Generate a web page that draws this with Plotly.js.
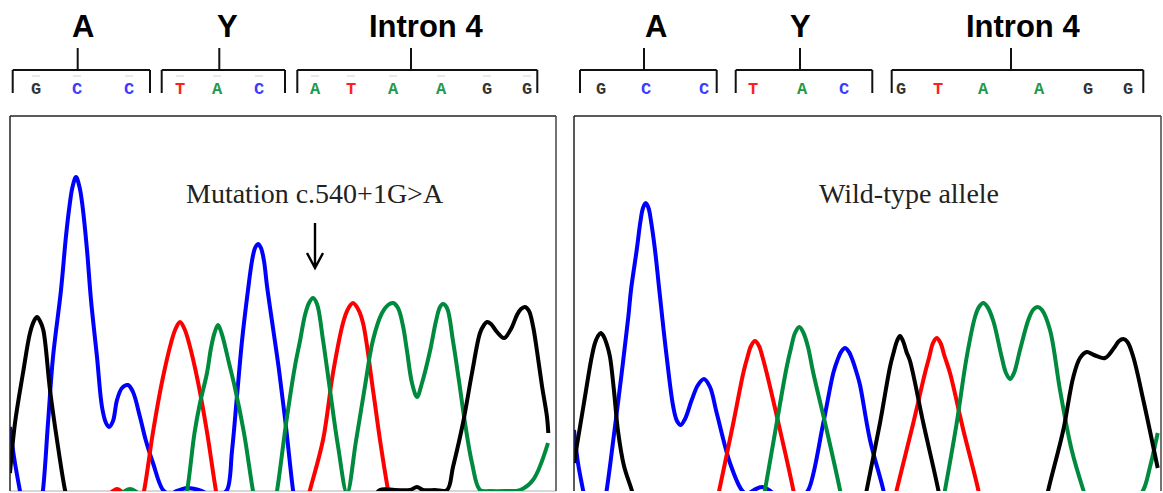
<!DOCTYPE html>
<html>
<head>
<meta charset="utf-8">
<script src="https://cdn.plot.ly/plotly-3.0.1.min.js"></script>
<style>
  html, body { margin: 0; padding: 0; background: #ffffff; }
  #chart { width: 1163px; height: 493px; }
</style>
</head>
<body>
<div id="chart"></div>
<script>
// ---- Mutant trace (c.540+1G>A): scan index / signal per dye channel ----
const mutBlueScan = [0, 4, 10, 13, null,
  29, 33, 38, 43, 51, 56, 59.5, 62.5, 66, 69.5, 72.5, 77, 81, 87, 92, 96, 99, 103, 107, 112, 118, 123, 130, 136, 143, 153, 160, 167, 177, 185, 192, 200, 210,
  217, 222, 227, 232, 238, 242, 245, 248, 251, 254, 257, 263, 269, 276, 283, 287];
const mutBlueSig = [64, 34, 0, -15, null,
  -25, 1, 68, 134, 201, 255, 285, 304, 314, 304, 285, 241, 191, 134, 84, 68, 64, 70, 91, 103, 106, 99, 74, 50, 28, 1, -3, 0, 3, 2, 0, -4, -4,
  1, 40, 95, 150, 201, 230, 243, 247, 243, 230, 205, 163, 121, 64, 1, -25];

const mutRedScan = [97, 103, 107, 111, 117, null,
  129, 134, 143, 152, 161, 165.5, 170, 174.5, 179, 188, 197, 206, 210, null,
  296, 300, 313, 323, 333, 338, 343, 348, 353, 363, 370, 378, 382];
const mutRedSig = [-6, 0, 2, 0, -6, null,
  -20, 0, 59, 109, 148, 162, 169, 162, 148, 109, 59, 0, -20, null,
  -15, 1, 51, 118, 168, 182, 188, 182, 168, 101, 51, 1, -20];

const mutGreenScan = [108, 115, 120, 125, 132, null,
  172, 177, 184.5, 190, 197, 201, 204.5, 208, 211.5, 215, 219, 225, 234, 243, 247, null,
  262, 267, 276, 285, 290, 295, 299, 303, 307, 313, 320, 328, 337,
  346, 355, 363, 372, 378, 383, 388, 393, 397, 402, 407, 412, 420, 426, 430, 433, 437, 443, 449, 455, 462, 470, 480, 495, 510, 523, 538];
const mutGreenSig = [-6, 0, 2, 0, -6, null,
  -20, 0, 58, 88, 118, 143, 158, 166, 158, 145, 128, 103, 58, 0, -20, null,
  -25, 0, 67, 125, 150, 176, 188, 193, 187, 151, 101, 45, -2,
  50, 105, 151, 178, 186, 188, 183, 165, 140, 108, 94, 108, 140, 170, 184, 187, 183, 150, 110, 68, 28, 1, 0, 0, 1, 11, 48];

const mutBlackScan = [0, 5, 13, 20, 24, 27, 30, 33.3, 40, 47, 55, 59, null,
  362, 370, 385, 400, 407, 413, 425, 437, 443, 453, 462, 470, 474, 477, 481, 487, 494, 501, 507, 511, 515, 519, 523, 527, 532, 537, 538.3];
const mutBlackSig = [18, 68, 118, 158, 170, 174, 170, 161, 101, 51, 1, -15, null,
  -10, 1, 1, 1, 4, 1, 1, 1, 24, 68, 118, 158, 166, 169, 167, 159, 153, 162, 176, 182, 184, 180, 165, 140, 105, 74, 58];

// ---- Wild-type trace: scan index / signal per dye channel ----
const wtBlueScan = [0, 4, 9, 13, null,
  29, 32.7, 39.3, 47.7, 54.3, 57, 62.7, 66.5, 69, 71.7, 74.5, 77, 81, 85.3, 92.7, 99.3, 103, 106.7, 111, 117.7, 124, 130, 136, 142.7, 156, 167.7, 173, 180, 188, 195, 202, 215, 228,
  234.3, 249.3, 259.3, 263.5, 267, 271, 275, 278.5, 282.7, 286, 296, 309.3, 313];
const wtBlueSig = [61, 28, 1, -20, null,
  -20, 1, 51, 118, 174, 201, 241, 270, 283, 288, 283, 270, 241, 201, 134, 84, 70, 66, 72, 91, 106, 112, 104, 78, 28, 1, -3, 1, 4, 1, -4, -6, -5,
  1, 68, 118, 131, 139, 143, 139, 131, 118, 106, 51, 1, -20];

const wtRedScan = [141, 145.3, 159.3, 169.3, 173.5, 177, 181, 185, 188.5, 192.7, 206, 219.3, 223, null,
  318, 322.7, 339.3, 351, 355, 359, 362.7, 366.5, 370.5, 376, 389.3, 404.3, 408];
const wtRedSig = [-20, 1, 68, 118, 134, 145, 150, 145, 134, 118, 61, 1, -20, null,
  -20, 1, 68, 118, 133, 148, 153, 148, 135, 118, 61, 1, -20];

const wtGreenScan = [187, 191, 202.7, 212.7, 217, 221, 225.3, 229.5, 234, 239.3, 252.7, 266, 270, null,
  367, 371, 382.7, 392.7, 401, 405, 409.3, 413.5, 419.3, 427.7, 432, 436, 440, 446, 454.3, 459, 463.7, 468, 476, 486, 497.7, 509.3, 513, 560, 569.3, 576, 583.7];
const wtGreenSig = [-20, 1, 68, 124, 143, 158, 164, 158, 144, 118, 61, 1, -20, null,
  -20, 1, 68, 134, 174, 184, 188, 184, 170, 134, 118, 112, 118, 141, 171, 181, 184, 181, 161, 101, 41, 1, -10, -10, 1, 24, 58];

const wtBlackScan = [0, 9.3, 17.7, 21, 24, 26.7, 29.5, 33, 36, 40, 44, 50, 57.7, 62, null,
  289, 292.7, 306, 316, 319.5, 323, 326, 329, 332.5, 336, 349.3, 364.3, 368, null,
  470, 474.3, 489.3, 499.3, 506, 512.7, 520, 531, 540, 545, 549.3, 553.5, 559.3, 569.3, 583.7];
const wtBlackSig = [28, 84, 134, 148, 155, 158, 155, 146, 134, 100, 60, 25, 1, -15, null,
  -20, 1, 68, 124, 138, 150, 155, 150, 139, 130, 68, 1, -20, null,
  -20, 1, 61, 114, 133, 139, 136, 133, 143, 150, 152, 149, 134, 91, 23];

// ---- Base calls under each trace ----
const mutCalls = ['G', 'C', 'C', 'T', 'A', 'C', 'A', 'T', 'A', 'A', 'G', 'G'];
const mutCallScan = [26, 67, 119, 170, 207, 249, 305, 341, 383, 431, 477, 517];
const wtCalls = ['G', 'C', 'C', 'T', 'A', 'C', 'G', 'T', 'A', 'A', 'G', 'G'];
const wtCallScan = [27, 72, 130, 179, 228, 270, 327, 364, 409, 465, 514, 554];

// ---- Codon / region labels ----
const regionLabels = ['A', 'Y', 'Intron 4'];
const mutationLabel = 'Mutation c.540+1G&gt;A';
const wildTypeLabel = 'Wild-type allele';

// ---------------------------------------------------------------
const W = 1163, H = 493;
const px = v => v / W;             // horizontal pixel -> paper
const py = v => (H - v) / H;       // vertical pixel (from top) -> paper

const dyeColors = { A: '#008a3e', C: '#0000ff', G: '#000000', T: '#ff0000' };
const callColors = { A: '#1f9a4a', C: '#3b3bff', G: '#333333', T: '#ff1f1f' };

function trace(x, y, color, xa, ya) {
  return {
    type: 'scatter', mode: 'lines', x: x, y: y,
    xaxis: xa, yaxis: ya, connectgaps: false, hoverinfo: 'skip',
    line: { color: color, width: 4, shape: 'spline', smoothing: 1 }
  };
}

const data = [
  trace(mutBlueScan, mutBlueSig, dyeColors.C, 'x', 'y'),
  trace(mutRedScan, mutRedSig, dyeColors.T, 'x', 'y'),
  trace(mutGreenScan, mutGreenSig, dyeColors.A, 'x', 'y'),
  trace(mutBlackScan, mutBlackSig, dyeColors.G, 'x', 'y'),
  trace(wtBlueScan, wtBlueSig, dyeColors.C, 'x2', 'y2'),
  trace(wtRedScan, wtRedSig, dyeColors.T, 'x2', 'y2'),
  trace(wtGreenScan, wtGreenSig, dyeColors.A, 'x2', 'y2'),
  trace(wtBlackScan, wtBlackSig, dyeColors.G, 'x2', 'y2')
];

const hiddenAxis = { showgrid: false, zeroline: false, showticklabels: false, showline: false, ticks: '', fixedrange: true };
const yDomain = [py(491), py(116)];

const shapes = [];
const annotations = [];

// panel frames (left, top, right edges)
function frame(xa, ya, bottomColor) {
  const base = { xref: xa + ' domain', yref: ya + ' domain', type: 'line', layer: 'above' };
  shapes.push(Object.assign({}, base, { x0: 0, x1: 0, y0: 0, y1: 1, line: { color: '#222', width: 1.5 } }));
  shapes.push(Object.assign({}, base, { x0: 0, x1: 1, y0: 1, y1: 1, line: { color: '#222', width: 1.5 } }));
  shapes.push(Object.assign({}, base, { x0: 1, x1: 1, y0: 0, y1: 1, line: { color: '#444', width: 1.5 } }));
  if (bottomColor) {
    shapes.push(Object.assign({}, base, { x0: 0, x1: 1, y0: 0, y1: 0, layer: 'below', line: { color: bottomColor, width: 1 } }));
  }
}
frame('x', 'y', '#b0b0b0');
frame('x2', 'y2', null);

// brackets over codons with their labels
const bracketSets = {
  x: [
    { x0: 2.7, x1: 140, stem: 67.7, lx: 72.5 },
    { x0: 151.7, x1: 275, stem: 209.3, lx: 217 },
    { x0: 287.3, x1: 527.3, stem: 401, lx: 416 }
  ],
  x2: [
    { x0: 6, x1: 142.7, stem: 70, lx: 82 },
    { x0: 161.7, x1: 298.3, stem: 226, lx: 226 },
    { x0: 317.7, x1: 569.3, stem: 437, lx: 448.5 }
  ]
};
const bTop = py(70), bLeg = py(93), bStem = py(48);
Object.keys(bracketSets).forEach(xa => {
  bracketSets[xa].forEach((b, i) => {
    const ln = { color: '#111', width: 2 };
    shapes.push({ type: 'line', xref: xa, yref: 'paper', x0: b.x0, x1: b.x1, y0: bTop, y1: bTop, line: ln });
    shapes.push({ type: 'line', xref: xa, yref: 'paper', x0: b.x0, x1: b.x0, y0: bTop, y1: bLeg, line: ln });
    shapes.push({ type: 'line', xref: xa, yref: 'paper', x0: b.x1, x1: b.x1, y0: bTop, y1: bLeg, line: ln });
    shapes.push({ type: 'line', xref: xa, yref: 'paper', x0: b.stem, x1: b.stem, y0: bTop, y1: bStem, line: ln });
    annotations.push({
      xref: xa, yref: 'paper', x: b.lx, y: py(26), xanchor: 'center', yanchor: 'middle',
      text: '<b>' + regionLabels[i] + '</b>', showarrow: false,
      font: { family: 'Liberation Sans, Arial, sans-serif', size: 31, color: '#000' }
    });
  });
});

// base-call letters
function calls(letters, pos, xa, ticks) {
  letters.forEach((c, i) => {
    annotations.push({
      xref: xa, yref: 'paper', x: pos[i], y: py(89.5), xanchor: 'center', yanchor: 'middle',
      text: '<b>' + c + '</b>', showarrow: false,
      font: { family: 'Liberation Mono, Courier New, monospace', size: 17, color: callColors[c] }
    });
    if (ticks) {
      shapes.push({ type: 'line', xref: xa, yref: 'paper', x0: pos[i] - 4, x1: pos[i] + 4, y0: py(76), y1: py(76),
        line: { color: '#d8d2c4', width: 1 } });
    }
  });
}
calls(mutCalls, mutCallScan, 'x', true);
calls(wtCalls, wtCallScan, 'x2', false);

// panel captions
annotations.push({
  xref: 'x', yref: 'y', x: 304.5, y: 298, xanchor: 'center', yanchor: 'middle', showarrow: false,
  text: mutationLabel, font: { family: 'Liberation Serif, Times New Roman, serif', size: 28, color: '#222' }
});
annotations.push({
  xref: 'x2', yref: 'y2', x: 334.5, y: 298, xanchor: 'center', yanchor: 'middle', showarrow: false,
  text: wildTypeLabel, font: { family: 'Liberation Serif, Times New Roman, serif', size: 28, color: '#222' }
});

// arrow pointing at the mutated intron base
const ax = mutCallScan[6];
shapes.push({
  type: 'path', xref: 'x', yref: 'y', layer: 'above',
  path: `M${ax},268 L${ax},224 M${ax - 8},238 L${ax},223 L${ax + 8},238`,
  line: { color: '#000', width: 2.4 }
});

const layout = {
  width: W, height: H,
  margin: { l: 0, r: 0, t: 0, b: 0, pad: 0 },
  paper_bgcolor: '#ffffff', plot_bgcolor: 'rgba(0,0,0,0)',
  showlegend: false,
  xaxis: Object.assign({}, hiddenAxis, { domain: [px(10), px(556)], range: [0, 546] }),
  yaxis: Object.assign({}, hiddenAxis, { domain: yDomain, range: [0, 375] }),
  xaxis2: Object.assign({}, hiddenAxis, { domain: [px(574), px(1161)], range: [0, 587], anchor: 'y2' }),
  yaxis2: Object.assign({}, hiddenAxis, { domain: yDomain, range: [0, 375], anchor: 'x2' }),
  shapes: shapes,
  annotations: annotations
};

Plotly.newPlot('chart', data, layout, { staticPlot: true, displayModeBar: false });
</script>
</body>
</html>
